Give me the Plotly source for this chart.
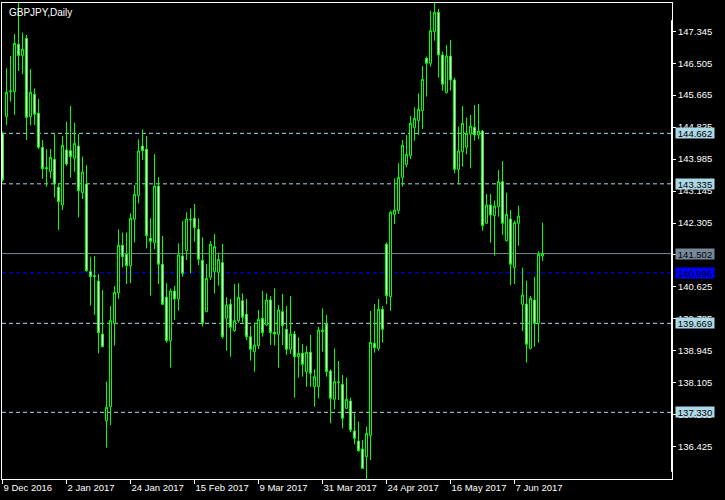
import plotly.graph_objects as go

symbol_title = "GBPJPY,Daily"

opens = [144.662, 145.100, 145.757, 145.757, 147.001, 146.703, 147.159, 145.100, 145.687, 145.188,
         144.294, 143.760, 143.655, 143.979, 143.243, 142.779, 144.224, 144.206, 144.005, 144.329,
         143.103, 143.330, 141.027, 140.921, 140.781, 139.388, 137.111, 137.479, 139.669, 140.475,
         141.719, 141.482, 141.184, 142.402, 143.024, 144.329, 144.242, 141.903, 141.789, 143.278,
         141.219, 140.352, 139.213, 140.519, 140.308, 141.438, 141.578, 142.384, 142.428, 142.139,
         141.324, 139.975, 140.878, 141.027, 141.009, 141.263, 139.800, 140.168, 139.476, 139.739,
         140.264, 139.905, 139.318, 138.924, 139.082, 139.800, 139.625, 140.282, 139.432, 139.380,
         139.975, 139.511, 138.986, 139.388, 138.793, 138.880, 138.399, 138.907, 138.004, 138.004,
         139.485, 139.643, 138.416, 137.672, 138.127, 138.066, 137.435, 137.628, 136.839, 136.577,
         136.366, 136.165, 136.717, 139.143, 139.012, 140.037, 141.745, 140.370, 142.533, 142.630,
         143.506, 143.847, 144.075, 144.811, 144.995, 145.258, 146.633, 146.502, 147.334, 147.842,
         146.721, 145.731, 146.694, 146.064, 143.716, 144.180, 144.294, 144.644, 144.820, 144.618,
         144.723, 142.297, 142.779, 142.498, 142.735, 143.392, 141.841, 142.411, 141.132, 142.297,
         140.168, 140.177, 139.012, 140.282, 139.669, 141.438]

highs = [144.706, 146.370, 146.694, 147.272, 148.096, 147.308, 147.246, 146.353, 145.845, 145.564,
         144.487, 144.250, 144.250, 144.662, 143.348, 144.592, 144.969, 145.380, 144.942, 144.644,
         144.049, 143.830, 141.421, 141.438, 140.965, 140.545, 138.136, 140.124, 140.650, 142.139,
         142.052, 142.060, 142.560, 143.304, 144.504, 144.767, 144.592, 142.428, 144.119, 143.506,
         141.964, 140.720, 140.580, 140.650, 141.771, 142.358, 142.586, 142.691, 142.805, 142.428,
         141.929, 141.228, 141.833, 142.016, 141.526, 141.754, 140.352, 140.308, 140.702, 140.720,
         140.457, 140.308, 139.599, 139.686, 140.019, 140.519, 140.457, 140.387, 140.589, 140.151,
         140.440, 140.124, 140.387, 139.467, 139.301, 139.126, 139.073, 139.362, 138.460, 139.581,
         140.063, 139.888, 138.460, 139.012, 138.679, 138.311, 138.241, 137.715, 137.304, 137.085,
         136.603, 136.953, 139.993, 140.177, 140.308, 140.124, 141.797, 142.630, 143.479, 143.874,
         144.487, 144.618, 145.118, 145.345, 145.713, 146.432, 146.677, 147.877, 148.096, 147.930,
         146.808, 146.983, 147.115, 146.125, 144.837, 145.380, 145.074, 145.144, 145.407, 145.433,
         144.750, 143.068, 143.068, 142.892, 143.698, 143.935, 143.103, 142.647, 142.367, 142.761,
         141.132, 140.790, 140.387, 140.895, 141.570, 142.314]

lows = [143.392, 144.881, 145.494, 145.144, 146.300, 146.221, 144.487, 144.881, 144.881, 144.250,
        143.471, 143.260, 143.479, 142.980, 142.122, 142.647, 143.804, 143.497, 143.655, 142.454,
        142.936, 141.027, 140.133, 139.888, 138.880, 139.040, 136.401, 136.997, 139.082, 140.308,
        141.140, 140.702, 140.720, 141.789, 142.822, 143.961, 141.640, 140.396, 141.614, 140.702,
        140.151, 139.161, 138.504, 139.756, 140.002, 140.895, 141.333, 140.983, 141.815, 141.202,
        139.581, 139.958, 140.808, 140.457, 140.659, 139.266, 138.950, 138.793, 139.450, 139.686,
        139.686, 139.231, 138.688, 138.399, 138.994, 139.318, 139.599, 139.099, 139.082, 138.504,
        139.099, 138.837, 138.863, 137.715, 138.241, 138.267, 138.004, 138.004, 137.479, 137.698,
        138.924, 138.267, 137.041, 137.409, 137.654, 136.909, 137.409, 136.804, 136.489, 136.296,
        135.841, 135.578, 136.077, 138.898, 138.950, 139.161, 140.168, 140.002, 142.279, 142.542,
        143.260, 143.768, 143.987, 144.469, 144.618, 144.776, 145.626, 146.414, 147.097, 146.125,
        145.783, 145.713, 145.783, 143.611, 143.322, 143.786, 144.110, 143.742, 144.469, 144.504,
        142.104, 142.279, 141.789, 141.447, 142.472, 141.990, 141.824, 140.676, 140.702, 141.710,
        139.467, 138.635, 138.986, 139.056, 139.161, 141.307]

closes = [143.436, 145.739, 145.775, 147.027, 146.703, 146.870, 145.082, 145.739, 145.161, 144.294,
          143.733, 143.733, 144.031, 143.330, 142.866, 144.347, 143.856, 144.049, 144.399, 143.155,
          143.646, 141.053, 140.895, 140.904, 139.424, 139.056, 137.461, 139.739, 140.483, 141.719,
          141.421, 141.184, 142.428, 143.059, 144.198, 144.206, 141.973, 141.824, 143.278, 141.219,
          140.168, 139.213, 140.519, 140.308, 141.465, 140.983, 142.411, 142.402, 142.183, 141.351,
          139.669, 140.851, 141.745, 141.684, 141.351, 139.318, 140.151, 139.564, 139.739, 140.352,
          139.826, 139.318, 138.986, 139.099, 139.774, 139.424, 140.282, 139.424, 139.388, 140.019,
          139.607, 138.986, 139.388, 138.793, 138.880, 138.591, 138.907, 138.355, 138.267, 139.494,
          139.459, 138.399, 137.698, 138.136, 138.118, 137.172, 137.672, 136.866, 136.647, 136.322,
          135.858, 136.778, 139.169, 139.029, 140.037, 139.511, 140.396, 142.586, 142.647, 143.506,
          144.347, 144.110, 144.925, 145.056, 145.293, 146.081, 146.502, 147.360, 147.842, 146.721,
          145.950, 146.694, 146.064, 143.716, 144.198, 144.925, 144.662, 144.855, 144.618, 144.723,
          142.235, 142.779, 142.516, 142.752, 143.392, 142.297, 142.533, 141.219, 142.314, 142.490,
          140.413, 139.117, 140.326, 139.669, 141.482, 141.502]

date_tick_index = [0, 16, 32, 48, 64, 80, 96, 112, 128]
date_tick_labels = ["9 Dec 2016", "2 Jan 2017", "24 Jan 2017", "15 Feb 2017", "9 Mar 2017",
                    "31 Mar 2017", "24 Apr 2017", "16 May 2017", "7 Jun 2017"]

price_ticks = [147.345, 146.505, 145.665, 144.825, 143.985, 143.145, 142.305,
               141.465, 140.625, 139.785, 138.945, 138.105, 137.265, 136.425]

level_lines = [144.662, 143.335, 139.669, 137.330]
bid_price = 141.502
ask_price = 140.996

bars = list(range(len(opens)))

fig = go.Figure()
fig.add_trace(go.Candlestick(
    x=bars, open=opens, high=highs, low=lows, close=closes,
    increasing=dict(line=dict(color="#00FF00", width=1), fillcolor="#000000"),
    decreasing=dict(line=dict(color="#00FF00", width=1), fillcolor="#FFFFFF"),
    whiskerwidth=0, hoverinfo="skip", showlegend=False,
))

shapes = []
for lv in level_lines:
    shapes.append(dict(type="line", xref="paper", x0=0, x1=1, yref="y", y0=lv, y1=lv,
                       line=dict(color="#ADD8E6", width=1, dash="4px,3px"), layer="below"))
shapes.append(dict(type="line", xref="paper", x0=0, x1=1, yref="y", y0=bid_price, y1=bid_price,
                   line=dict(color="#778899", width=1), layer="below"))
shapes.append(dict(type="line", xref="paper", x0=0, x1=1, yref="y", y0=ask_price, y1=ask_price,
                   line=dict(color="#0000FF", width=1, dash="4px,3px"), layer="below"))
shapes.append(dict(type="line", xref="paper", x0=1, x1=1, yref="paper", y0=0.015, y1=0.964,
                   line=dict(color="#FFFFFF", width=2)))
fig.update_layout(shapes=shapes)

annotations = [dict(text=symbol_title, xref="paper", yref="paper", x=0, y=1, xanchor="left",
                    yanchor="top", xshift=5, yshift=-2, showarrow=False,
                    font=dict(family="Liberation Sans", size=10, color="#FFFFFF"))]
for lv in level_lines:
    annotations.append(dict(text=f"{lv:.3f}", xref="paper", yref="y", x=1, y=lv, xanchor="left",
                            yanchor="middle", xshift=3, showarrow=False, bgcolor="#ADD8E6",
                            width=38, height=10, borderpad=0,
                            font=dict(family="Liberation Sans", size=9.5, color="#000000")))
annotations.append(dict(text=f"{bid_price:.3f}", xref="paper", yref="y", x=1, y=bid_price,
                        xanchor="left", yanchor="middle", xshift=3, showarrow=False,
                        bgcolor="#778899", width=38, height=10, borderpad=0,
                        font=dict(family="Liberation Sans", size=9.5, color="#000000")))
annotations.append(dict(text=f"{ask_price:.3f}", xref="paper", yref="y", x=1, y=ask_price,
                        xanchor="left", yanchor="middle", xshift=3, showarrow=False,
                        bgcolor="#0000FF", width=38, height=10, borderpad=0,
                        font=dict(family="Liberation Sans", size=9.5, color="#000000")))
fig.update_layout(annotations=annotations)

fig.update_layout(
    width=725, height=500,
    margin=dict(l=2, r=53, t=3, b=21, autoexpand=False),
    paper_bgcolor="#000000", plot_bgcolor="#000000",
    showlegend=False,
    boxgap=0.5, boxgroupgap=0,
    xaxis=dict(range=[-0.125, 167.375], rangeslider=dict(visible=False), showgrid=False,
               zeroline=False, showline=True, mirror=True, linecolor="#FFFFFF", linewidth=1,
               tickmode="array", tickvals=date_tick_index, ticktext=date_tick_labels,
               ticks="outside", ticklen=4, tickcolor="#FFFFFF", ticklabelposition="outside right",
               tickfont=dict(family="Liberation Sans", size=9.5, color="#FFFFFF")),
    yaxis=dict(range=[135.578, 148.087], side="right", showgrid=False, zeroline=False,
               showline=True, mirror=True, linecolor="#FFFFFF", linewidth=1,
               tickmode="array", tickvals=price_ticks, ticktext=[f"{p:.3f}" for p in price_ticks],
               ticks="outside", ticklen=3, tickcolor="#FFFFFF",
               tickfont=dict(family="Liberation Sans", size=9.5, color="#FFFFFF")),
)

fig.write_html(
    "out.html",
    config={"displayModeBar": False},
    post_script="document.body.style.margin='0';document.body.style.padding='0';"
                "document.body.style.background='#000';",
)
